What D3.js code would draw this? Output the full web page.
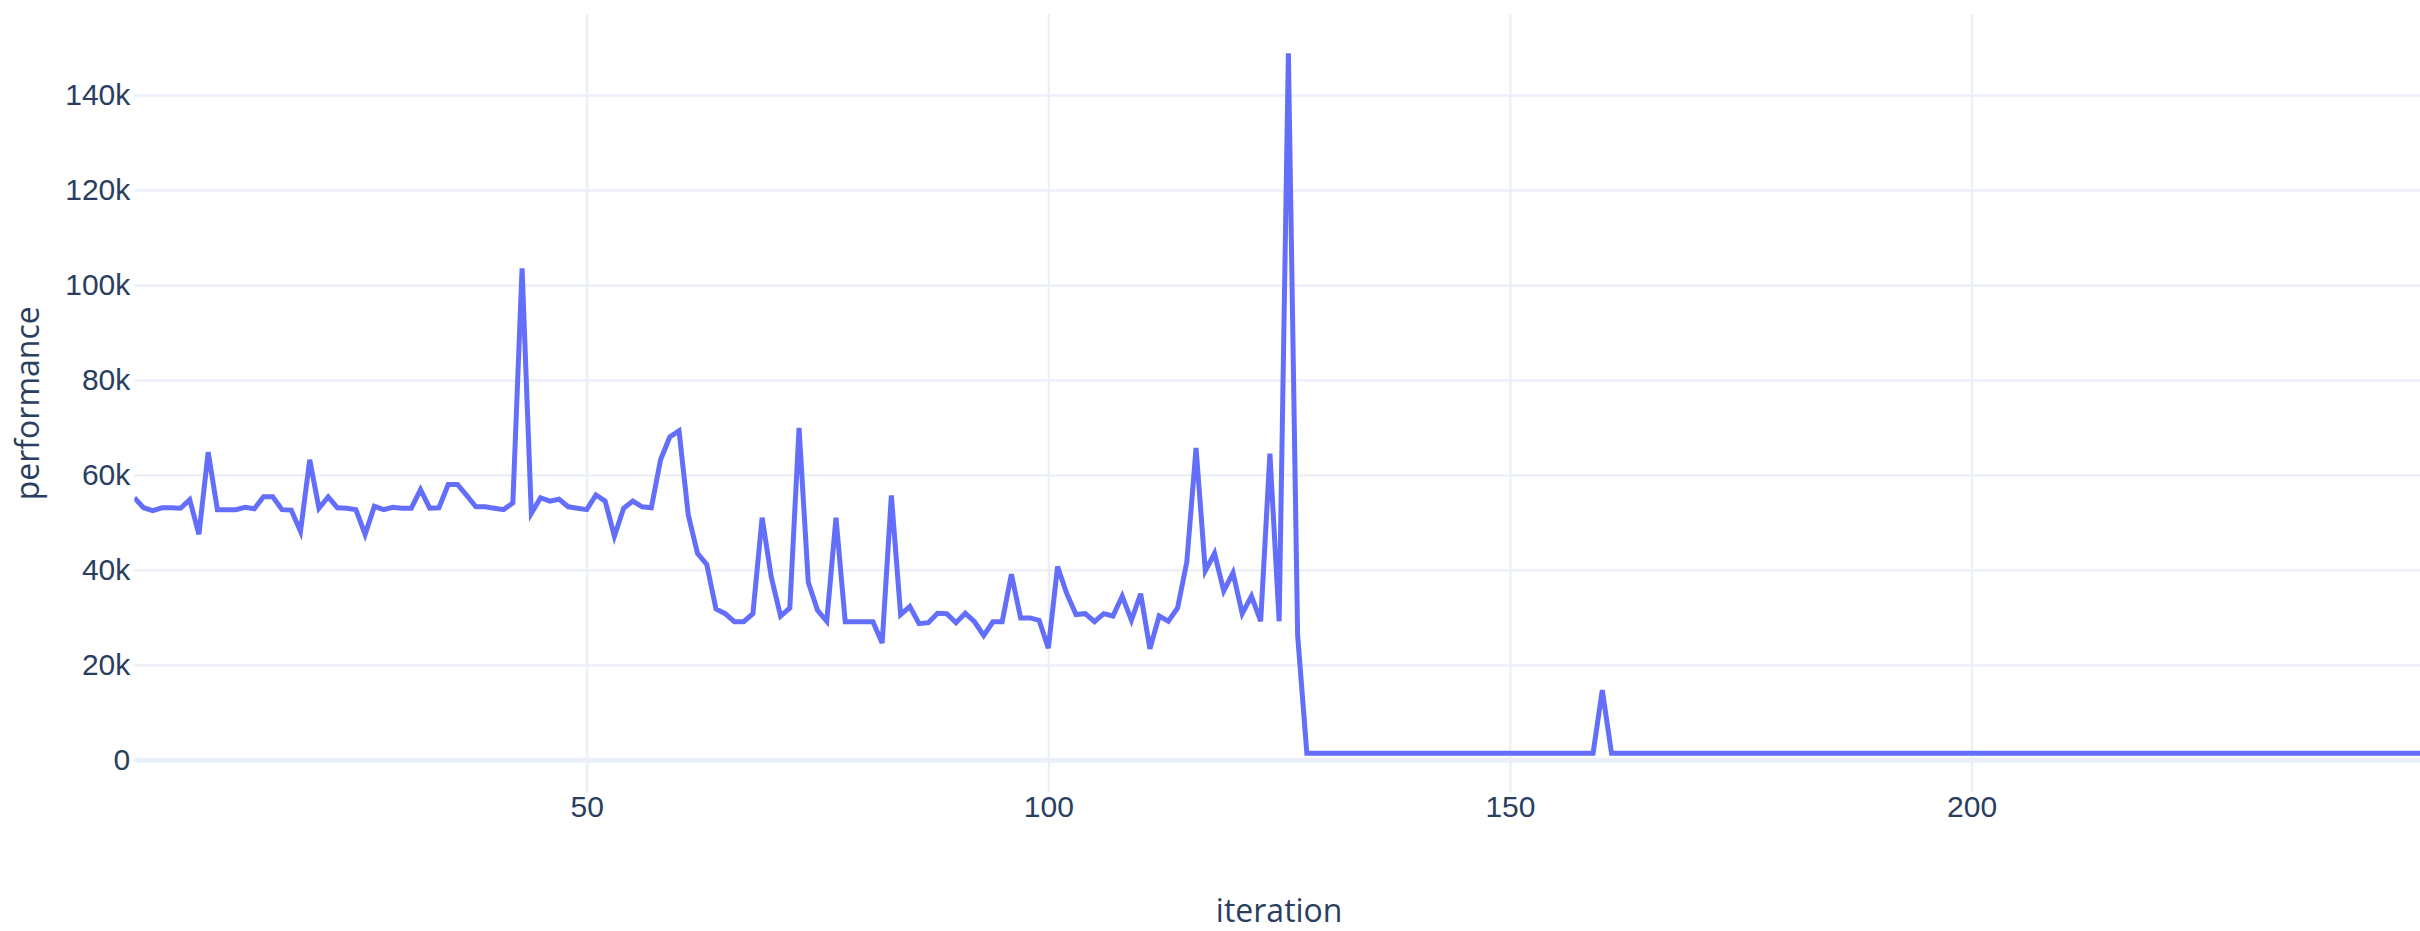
<!DOCTYPE html>
<html>
<head>
<meta charset="utf-8">
<script src="https://cdn.jsdelivr.net/npm/d3@7"></script>
<style>
  body { margin: 0; background: #fff; }
  svg { display: block; font-family: "Open Sans", sans-serif; }
</style>
</head>
<body>
<div id="chart"></div>
<script>
// performance per iteration (iteration = position + 1)
const performance = [
  55200, 53100, 52500, 53100, 53100, 53000, 54800, 47500, 64800, 52700,
  52700, 52700, 53200, 52900, 55400, 55400, 52700, 52600, 48100, 63200,
  53000, 55400, 53100, 53000, 52700, 47500, 53400, 52700, 53200, 53000,
  53000, 56900, 53000, 53100, 58000, 58000, 55700, 53300, 53300, 53000,
  52700, 54100, 103500, 51900, 55200, 54500, 54900, 53300, 53000, 52700,
  55800, 54500, 47100, 53000, 54500, 53300, 53100, 63200, 68000, 69300,
  51600, 43500, 41200, 31800, 30800, 29100, 29100, 30800, 51000, 38400,
  30300, 32000, 69900, 37400, 31500, 29200, 51000, 29100, 29100, 29100,
  29100, 24600, 55700, 30600, 32300, 28700, 28900, 30900, 30800, 28900,
  30900, 29100, 26200, 29100, 29100, 39100, 29900, 29900, 29400, 23500,
  40700, 35000, 30600, 30800, 29100, 30800, 30300, 34500, 29400, 35000,
  23400, 30300, 29200, 32000, 41700, 65700, 39800, 43500, 35600, 39400,
  30800, 34500, 29200, 64500, 29200, 148800, 26300, 1400, 1400, 1400,
  1400, 1400, 1400, 1400, 1400, 1400, 1400, 1400, 1400, 1400,
  1400, 1400, 1400, 1400, 1400, 1400, 1400, 1400, 1400, 1400,
  1400, 1400, 1400, 1400, 1400, 1400, 1400, 1400, 1400, 14700,
  1400, 1400, 1400, 1400, 1400, 1400, 1400, 1400, 1400, 1400,
  1400, 1400, 1400, 1400, 1400, 1400, 1400, 1400, 1400, 1400,
  1400, 1400, 1400, 1400, 1400, 1400, 1400, 1400, 1400, 1400,
  1400, 1400, 1400, 1400, 1400, 1400, 1400, 1400, 1400, 1400,
  1400, 1400, 1400, 1400, 1400, 1400, 1400, 1400, 1400, 1400,
  1400, 1400, 1400, 1400, 1400, 1400, 1400, 1400, 1400, 1400,
  1400, 1400, 1400, 1400, 1400, 1400, 1400, 1400, 1400, 1400,
  1400, 1400, 1400, 1400, 1400, 1400, 1400, 1400, 1400, 1400,
  1400, 1400, 1400, 1400, 1400, 1400, 1400, 1400, 1400
];

const xTicks = [50, 100, 150, 200];
const yTicks = [0, 20000, 40000, 60000, 80000, 100000, 120000, 140000];
const yTickLabels = ["0", "20k", "40k", "60k", "80k", "100k", "120k", "140k"];

const width = 2420, height = 931;
const margin = { top: 14.3, right: -4, bottom: 138.8, left: 134.3 };
const plotW = width - margin.left - margin.right;
const plotH = height - margin.top - margin.bottom;

const data = performance.map((v, i) => ({ iteration: i + 1, value: v }));

const svg = d3.select("#chart").append("svg")
  .attr("width", width)
  .attr("height", height);

svg.append("defs").append("clipPath").attr("id", "clip")
  .append("rect").attr("width", plotW).attr("height", plotH);

const g = svg.append("g")
  .attr("transform", `translate(${margin.left},${margin.top})`);

const x = d3.scaleLinear()
  .domain([1, 249])
  .range([0, plotW]);

const y = d3.scaleLinear()
  .domain([-6790, 156990])
  .range([plotH, 0]);

// y grid + labels
const yAxis = g.append("g")
  .call(d3.axisLeft(y)
    .tickValues(yTicks)
    .tickFormat((d, i) => yTickLabels[i])
    .tickSize(-plotW)
    .tickPadding(4));
yAxis.select(".domain").remove();
yAxis.selectAll("line")
  .attr("stroke", "#EBF0F8")
  .attr("stroke-width", d => d === 0 ? 4.6 : 2.3);
yAxis.selectAll("text")
  .attr("fill", "#2a3f5f")
  .style("font-size", "30px");

// x grid + labels
const xAxis = g.append("g")
  .attr("transform", `translate(0,${plotH})`)
  .call(d3.axisBottom(x)
    .tickValues(xTicks)
    .tickFormat(d3.format("d"))
    .tickSize(-plotH)
    .tickPadding(3));
xAxis.select(".domain").remove();
xAxis.selectAll("line")
  .attr("stroke", "#EBF0F8")
  .attr("stroke-width", 2.3);
xAxis.selectAll("text")
  .attr("fill", "#2a3f5f")
  .style("font-size", "30px");

// zero line drawn above the vertical grid
g.append("line")
  .attr("x1", 0).attr("x2", plotW)
  .attr("y1", y(0)).attr("y2", y(0))
  .attr("stroke", "#EBF0F8")
  .attr("stroke-width", 4.6);

// line
const line = d3.line()
  .x(d => x(d.iteration))
  .y(d => y(d.value));

g.append("path")
  .datum(data)
  .attr("clip-path", "url(#clip)")
  .attr("fill", "none")
  .attr("stroke", "#636efa")
  .attr("stroke-width", 5)
  .attr("d", line);

// axis titles
svg.append("text")
  .attr("x", margin.left + plotW / 2)
  .attr("y", 911)
  .attr("dy", "0.35em")
  .attr("text-anchor", "middle")
  .attr("fill", "#2a3f5f")
  .style("font-size", "32px")
  .text("iteration");

svg.append("text")
  .attr("transform", `translate(28,${margin.top + plotH / 2}) rotate(-90)`)
  .attr("dy", "0.35em")
  .attr("text-anchor", "middle")
  .attr("fill", "#2a3f5f")
  .style("font-size", "32px")
  .text("performance");
</script>
</body>
</html>
